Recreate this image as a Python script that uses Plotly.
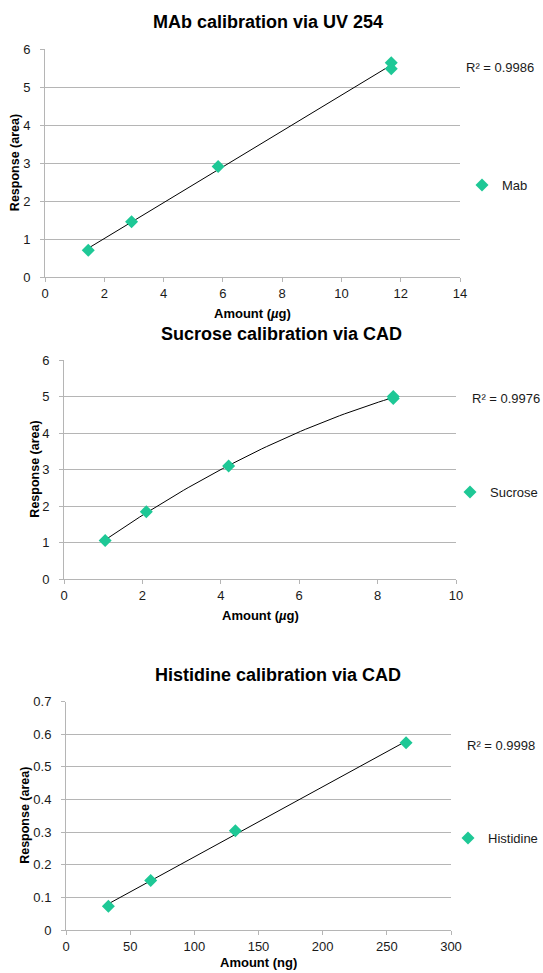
import numpy as np
import plotly.graph_objects as go

W, H = 543, 973

# ---- data ----
mab_amount = [1.46, 2.92, 5.84, 11.68, 11.68]
mab_response = [0.71, 1.46, 2.91, 5.64, 5.48]
sucrose_amount = [1.05, 2.10, 4.20, 8.40, 8.40]
sucrose_response = [1.06, 1.85, 3.10, 4.95, 5.00]
histidine_amount = [33, 66, 132, 265]
histidine_response = [0.073, 0.152, 0.304, 0.574]

titles = ["MAb calibration via UV 254", "Sucrose calibration via CAD", "Histidine calibration via CAD"]
series_names = ["Mab", "Sucrose", "Histidine"]
r2_labels = ["R² = 0.9986", "R² = 0.9976", "R² = 0.9998"]
x_titles = ["Amount (<i>µ</i>g)", "Amount (<i>µ</i>g)", "Amount (ng)"]
y_title = "Response (area)"

MARK = "#1ec896"
GRID = "#b5b5b5"
TXT = "#1a1a1a"
FONT = "Liberation Sans, Arial, Helvetica, sans-serif"

def px_x(v):
    return v / W

def px_y(v):
    return 1 - v / H

# plot areas in pixels: (left, right, top, bottom)
areas = [(45, 460, 49, 277.3), (64, 456, 360, 579.3), (66, 451, 701.7, 930)]
xranges = [[0, 14], [0, 10], [0, 300]]
xdticks = [2, 2, 50]
yranges = [[0, 6], [0, 6], [0, 0.7]]
ydticks = [1, 1, 0.1]
fit_deg = [1, 2, 1]
title_pos = [(268, 22), (281, 334), (278, 675)]
r2_pos = [(464, 67), (470, 398), (465, 745)]
# legend placement: (x in px or None -> right aligned at page edge, y center in px)
legend_pos = [(462, 185), (None, 492), (None, 838)]
xtitle_y = [313, 615, 962]
ytitle_x = [15, 35, 25]

datasets = [(mab_amount, mab_response), (sucrose_amount, sucrose_response),
            (histidine_amount, histidine_response)]

fig = go.Figure()
annotations = []
layout = {}

for i, ((xs, ys), name) in enumerate(zip(datasets, series_names)):
    n = "" if i == 0 else str(i + 1)
    xa, ya = "x" + n, "y" + n
    lg = "legend" + n
    l, r, t, b = areas[i]

    # trendline computed from the data
    coef = np.polyfit(xs, ys, fit_deg[i])
    tx = np.linspace(min(xs), max(xs), 60)
    ty = np.polyval(coef, tx)
    fig.add_trace(go.Scatter(x=tx, y=ty, mode="lines", xaxis=xa, yaxis=ya,
                             line=dict(color="black", width=1),
                             showlegend=False, hoverinfo="skip"))
    fig.add_trace(go.Scatter(x=xs, y=ys, mode="markers", name=name, xaxis=xa, yaxis=ya,
                             legend=lg,
                             marker=dict(symbol="diamond", size=10, color=MARK,
                                         line=dict(width=0))))

    layout["xaxis" + n] = dict(
        domain=[px_x(l), px_x(r)], anchor=ya, range=xranges[i], dtick=xdticks[i],
        tick0=0, showgrid=False, zeroline=False, showline=True, linecolor=GRID,
        linewidth=1, ticks="outside", ticklen=4, tickcolor=GRID, automargin=False,
        tickfont=dict(size=13, color=TXT, family=FONT), fixedrange=True,
    )
    layout["yaxis" + n] = dict(
        domain=[px_y(b), px_y(t)], anchor=xa, range=yranges[i], dtick=ydticks[i],
        tick0=0, showgrid=True, gridcolor=GRID, gridwidth=1, zeroline=False,
        showline=True, linecolor=GRID, linewidth=1, ticks="outside", ticklen=4,
        tickcolor=GRID, tickfont=dict(size=13, color=TXT, family=FONT),
        ticklabelstandoff=7, fixedrange=True, automargin=False,
    )
    lx, ly = legend_pos[i]
    if lx is None:
        lgd = dict(x=1, xanchor="right")
    else:
        lgd = dict(x=px_x(lx), xanchor="left")
    lgd.update(y=px_y(ly), yanchor="middle", bgcolor="rgba(0,0,0,0)", borderwidth=0,
               font=dict(size=13, color=TXT, family=FONT), itemwidth=30)
    layout[lg] = lgd

    annotations.append(dict(text="<b>" + titles[i] + "</b>", xref="paper", yref="paper",
                            x=px_x(title_pos[i][0]), y=px_y(title_pos[i][1]),
                            xanchor="center", yanchor="middle", showarrow=False,
                            font=dict(size=18, color="black", family=FONT)))
    annotations.append(dict(text=r2_labels[i], xref="paper", yref="paper",
                            x=px_x(r2_pos[i][0]), y=px_y(r2_pos[i][1]),
                            xanchor="left", yanchor="middle", showarrow=False,
                            font=dict(size=13, color=TXT, family=FONT)))
    annotations.append(dict(text="<b>" + x_titles[i] + "</b>", xref="paper", yref="paper",
                            x=px_x((l + r) / 2), y=px_y(xtitle_y[i]),
                            xanchor="center", yanchor="middle", showarrow=False,
                            font=dict(size=13, color="black", family=FONT)))
    annotations.append(dict(text="<b>" + y_title + "</b>", xref="paper", yref="paper",
                            x=px_x(ytitle_x[i]), y=px_y((t + b) / 2), textangle=-90,
                            xanchor="center", yanchor="middle", showarrow=False,
                            font=dict(size=12.5, color="black", family=FONT)))

fig.update_layout(
    template="none",
    width=W, height=H, autosize=False,
    margin=dict(l=0, r=0, t=0, b=0, pad=0),
    paper_bgcolor="white", plot_bgcolor="white",
    annotations=annotations, showlegend=True,
    font=dict(family=FONT, color=TXT),
    **layout,
)

fig.write_html("out.html", config={"displayModeBar": False})
